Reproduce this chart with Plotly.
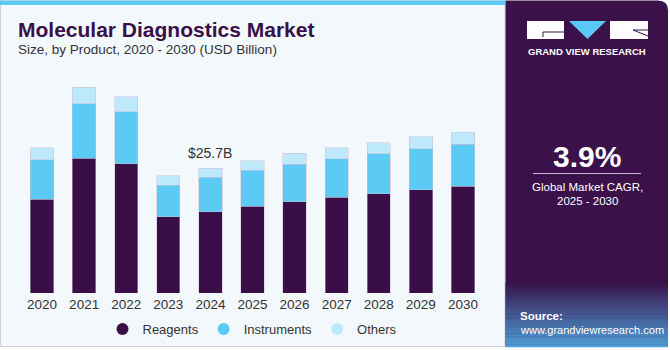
import plotly.graph_objects as go

years = ["2020", "2021", "2022", "2023", "2024", "2025", "2026", "2027", "2028", "2029", "2030"]
reagents = [19.3, 27.7, 26.6, 15.7, 16.7, 17.8, 18.8, 19.7, 20.4, 21.2, 21.9]
instruments = [8.1, 11.2, 10.7, 6.5, 7.1, 7.4, 7.7, 7.9, 8.2, 8.5, 8.7]
others = [2.5, 3.4, 3.1, 1.9, 1.9, 2.0, 2.2, 2.3, 2.3, 2.4, 2.5]
series_names = ["Reagents", "Instruments", "Others"]
series_colors = ["#3A0F48", "#5BCBF5", "#BEE9FA"]
highlight_year = "2024"
highlight_label = "$25.7B"

W, H = 670, 350
L, R, T, B = 21, 186, 80, 57
PW, PH = W - L - R, H - T - B

def px(x):
    return (x - L) / PW

def py(y):
    return (H - B - y) / PH

fig = go.Figure()
for name, vals, col in zip(series_names, [reagents, instruments, others], series_colors):
    fig.add_trace(go.Bar(
        x=years, y=vals, name=name, marker=dict(color=col, line=dict(color="rgba(200,190,215,0.6)", width=0.8)),
        showlegend=False, hoverinfo="skip"))
for name, col in zip(series_names, series_colors):
    fig.add_trace(go.Scatter(
        x=[None], y=[None], mode="markers", name=name,
        marker=dict(color=col, size=13, symbol="circle")))

totals = [a + b + c for a, b, c in zip(reagents, instruments, others)]
hi = years.index(highlight_year)

shapes = []
shapes.append(dict(type="rect", xref="paper", yref="paper", x0=px(0.5), x1=px(505), y0=py(346.5), y1=py(0),
                   fillcolor="#F3F8FC", line=dict(color="#D0D4D8", width=1), layer="below"))
shapes.append(dict(type="rect", xref="paper", yref="paper", x0=px(0), x1=px(505), y0=py(5), y1=py(0.5),
                   fillcolor="#5BC8F5", line=dict(width=0), layer="below"))
x0p, x1p, y0p, y1p = px(505.5), px(668), py(0.5), py(347)
rx, ry = 10 / PW, 10 / PH
path = (f"M {x0p},{y1p} L {x0p},{y0p} L {x1p - rx},{y0p} Q {x1p},{y0p} {x1p},{y0p - ry} "
        f"L {x1p},{y1p} Z")
shapes.append(dict(type="path", xref="paper", yref="paper", path=path, fillcolor="#3A1249",
                   line=dict(width=0), layer="below"))
c0 = (0x3A, 0x12, 0x49)
c1 = (0x4F, 0x9F, 0xDA)
n = 24
ytop, ybot = 282, 347
for i in range(n):
    t = (i + 0.5) / n
    c = tuple(int(c0[k] + (c1[k] - c0[k]) * t) for k in range(3))
    ya = ytop + (ybot - ytop) * i / n
    yb = ytop + (ybot - ytop) * (i + 1) / n
    shapes.append(dict(type="rect", xref="paper", yref="paper", x0=px(505.5), x1=px(668),
                       y0=py(yb + 0.3), y1=py(ya), fillcolor="rgb(%d,%d,%d)" % c,
                       line=dict(width=0), layer="below"))
shapes.append(dict(type="rect", xref="paper", yref="paper", x0=px(527), x1=px(564), y0=py(39), y1=py(21),
                   fillcolor="white", line=dict(width=0)))
shapes.append(dict(type="path", xref="paper", yref="paper",
                   path=f"M {px(543)},{py(37)} L {px(543)},{py(32)} L {px(564)},{py(32)}",
                   line=dict(color="#3A1249", width=1)))
shapes.append(dict(type="path", xref="paper", yref="paper",
                   path=f"M {px(569)},{py(21)} L {px(606)},{py(21)} L {px(587.5)},{py(39)} Z",
                   fillcolor="#5BC8F5", line=dict(width=0)))
shapes.append(dict(type="rect", xref="paper", yref="paper", x0=px(610), x1=px(648), y0=py(39), y1=py(21),
                   fillcolor="white", line=dict(width=0)))
shapes.append(dict(type="path", xref="paper", yref="paper",
                   path=f"M {px(633)},{py(30)} L {px(648)},{py(36)} M {px(633)},{py(30)} L {px(648)},{py(30)}",
                   line=dict(color="#3A1249", width=1)))
shapes.append(dict(type="line", xref="paper", yref="paper", x0=px(533), x1=px(641), y0=py(173.5), y1=py(173.5),
                   line=dict(color="#C9BFD3", width=1.2)))

FONT = "Liberation Sans"

def note(text, x, y, size, color="white", xanchor="center"):
    return dict(text=text, xref="paper", yref="paper", x=px(x), y=py(y), xanchor=xanchor,
                yanchor="middle", showarrow=False, font=dict(family=FONT, size=size, color=color))

ann = [
    note("<b>Molecular Diagnostics Market</b>", 16, 29, 21, "#3A1049", "left"),
    note("Size, by Product, 2020 - 2030 (USD Billion)", 16, 50, 13.5, "#333333", "left"),
    dict(text=highlight_label, x=hi, y=totals[hi], yshift=5, xref="x", yref="y",
         xanchor="center", yanchor="bottom",
         showarrow=False, font=dict(family=FONT, size=14, color="#333333")),
    note("<b>GRAND VIEW RESEARCH</b>", 587, 51, 9.5),
    note("<b>3.9%</b>", 587, 156, 30),
    note("Global Market CAGR,", 587.5, 187, 11.5),
    note("2025 - 2030", 587.5, 201, 11.5),
    note("<b>Source:</b>", 518, 316, 11.5, "white", "left"),
    note("www.grandviewresearch.com", 518, 330, 11, "white", "left"),
]

ymax = PH * 25.7 / 125.0

fig.update_layout(
    width=W, height=H, margin=dict(l=L, r=R, t=T, b=B, pad=0, autoexpand=False),
    barmode="stack", bargap=0.446,
    paper_bgcolor="white", plot_bgcolor="rgba(0,0,0,0)",
    xaxis=dict(type="category", range=[-0.5, len(years) - 0.5], showgrid=False, showline=False,
               ticks="", ticklabelstandoff=1, automargin=False,
               tickfont=dict(family=FONT, size=13.5, color="#333333"), fixedrange=True),
    yaxis=dict(range=[0, ymax], visible=False, fixedrange=True, automargin=False),
    legend=dict(orientation="h", x=0.5, xanchor="center", y=py(329), yanchor="middle",
                font=dict(family=FONT, size=13, color="#333333"), bgcolor="rgba(0,0,0,0)",
                itemsizing="constant", traceorder="normal"),
    shapes=shapes, annotations=ann, showlegend=True,
)
fig.write_html("out.html")
